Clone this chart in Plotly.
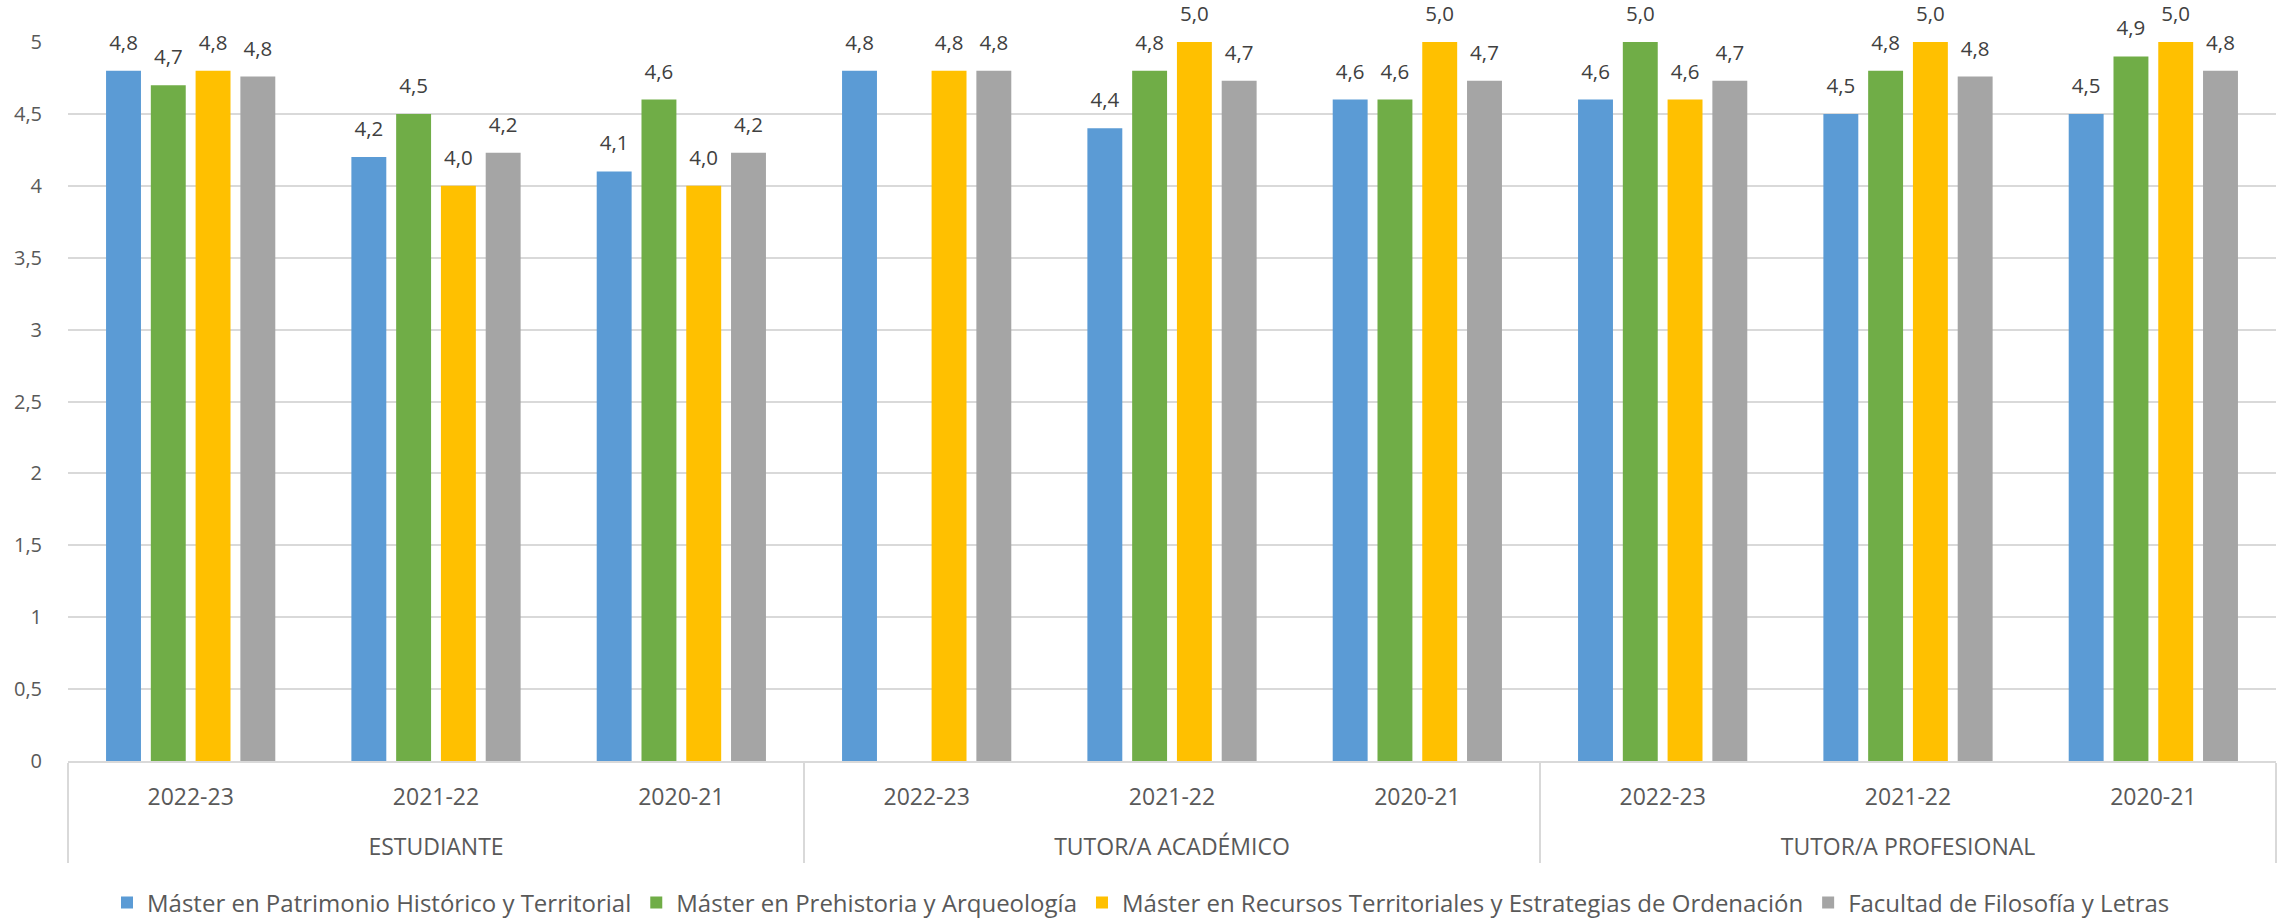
import plotly.graph_objects as go

role_names = ["ESTUDIANTE", "TUTOR/A ACADÉMICO", "TUTOR/A PROFESIONAL"]
year_names = ["2022-23", "2021-22", "2020-21"]

patrimonio = [4.8, 4.2, 4.1, 4.8, 4.4, 4.6, 4.6, 4.5, 4.5]
prehistoria = [4.7, 4.5, 4.6, None, 4.8, 4.6, 5.0, 4.8, 4.9]
recursos = [4.8, 4.0, 4.0, 4.8, 5.0, 5.0, 4.6, 5.0, 5.0]
facultad = [4.76, 4.23, 4.23, 4.8, 4.73, 4.73, 4.73, 4.76, 4.8]

series_names = [
    "Máster en Patrimonio Histórico y Territorial",
    "Máster en Prehistoria y Arqueología",
    "Máster en Recursos Territoriales y Estrategias de Ordenación",
    "Facultad de Filosofía y Letras",
]
series_values = [patrimonio, prehistoria, recursos, facultad]
colors = ["#5B9BD5", "#70AD47", "#FFC000", "#A5A5A5"]

# outer level labels get a leading line break so they sit lower, as in the original
roles = ["<br>" + r for r in role_names for _ in year_names]
years = [y for _ in role_names for y in year_names]

FONT = "Open Sans"
TXT = "#595959"
# large invisible spaces on both sides lift the value labels off the bar tops
SPACER = "<span style='font-size:62px'> </span>"

fig = go.Figure()
for name, vals, col in zip(series_names, series_values, colors):
    fig.add_trace(go.Bar(
        x=[roles, years], y=vals, name=name,
        marker=dict(color=col, line=dict(width=0)),
        texttemplate=SPACER + "%{y:.1f}" + SPACER, textposition="outside",
        textfont=dict(family=FONT, size=20.5, color="#404040"),
        constraintext="none", cliponaxis=False,
    ))

fig.update_layout(
    width=2282, height=918,
    margin=dict(l=68, r=6, t=42, b=157, autoexpand=False),
    paper_bgcolor="white", plot_bgcolor="white",
    separators=",.",
    barmode="group", bargap=0.27, bargroupgap=0.22,
    font=dict(family=FONT, size=23, color=TXT),
    legend=dict(orientation="h", x=0.5, xanchor="center", xref="container",
                y=15 / 918, yanchor="middle", yref="container",
                font=dict(family=FONT, size=24, color=TXT), itemwidth=30,
                tracegroupgap=0),
    showlegend=True,
)
fig.update_yaxes(range=[0, 5], dtick=0.5, showgrid=True, gridcolor="#D9D9D9", gridwidth=2,
                 zeroline=False, showline=False, ticks="", ticklabelstandoff=25,
                 tickfont=dict(family=FONT, size=20, color=TXT))
fig.update_xaxes(type="multicategory", showline=True, linecolor="#D9D9D9", linewidth=2,
                 showdividers=True, dividercolor="#D9D9D9", dividerwidth=2,
                 ticklabelstandoff=14,
                 tickfont=dict(family=FONT, size=23, color=TXT), ticks="")

fig.write_html("out.html", config={"displayModeBar": False},
               post_script="document.body.style.margin='0';document.body.style.overflow='hidden';")
